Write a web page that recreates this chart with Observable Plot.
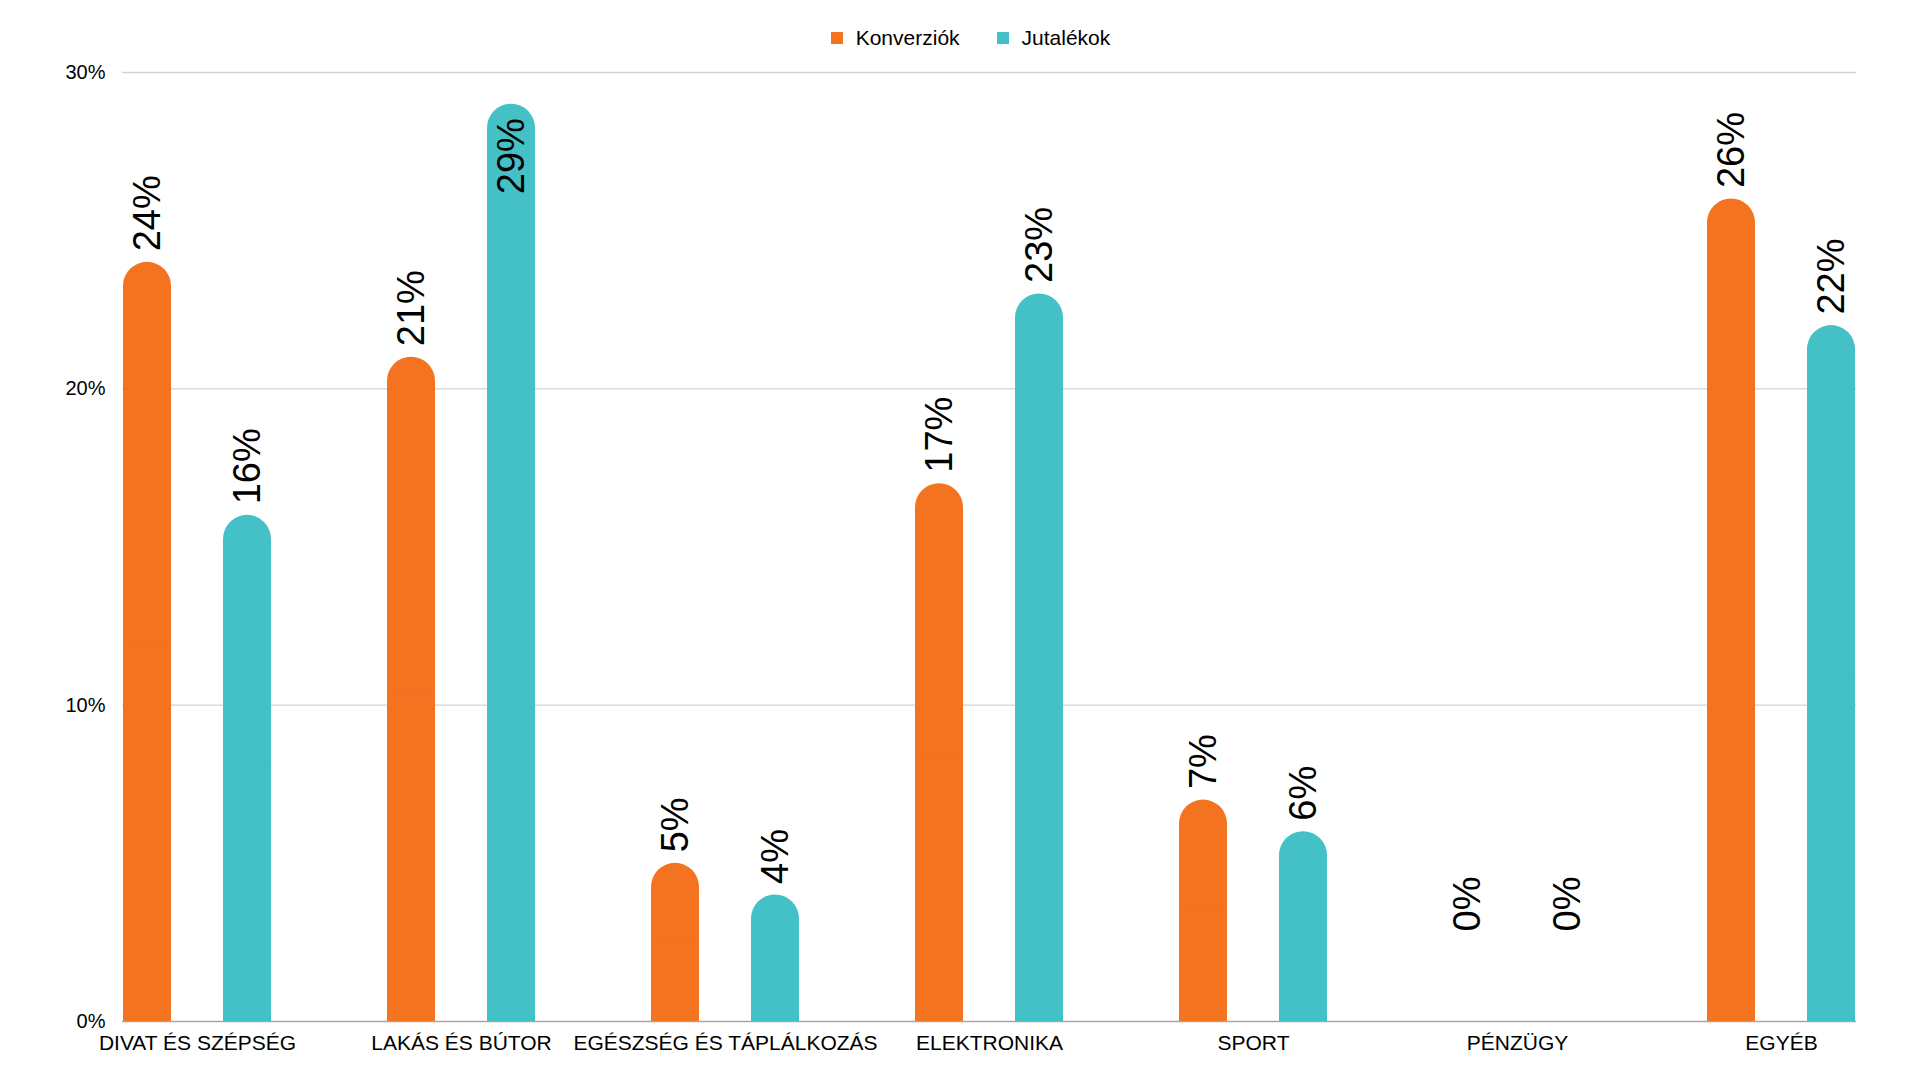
<!DOCTYPE html>
<html>
<head>
<meta charset="utf-8">
<script src="https://cdn.jsdelivr.net/npm/d3@7"></script>
<script src="https://cdn.jsdelivr.net/npm/@observablehq/plot@0.6"></script>
<style>
  html, body { margin: 0; padding: 0; background: #ffffff; }
  #wrap { width: 1920px; height: 1080px; position: relative; overflow: hidden;
          font-family: "Liberation Sans", Arial, sans-serif; color: #000; }
  #legend { height: 56px; box-sizing: border-box; padding-top: 20px; padding-left: 21px;
            display: flex; justify-content: center; gap: 37px;
            font-size: 21px; line-height: 24px; }
  .item { display: flex; align-items: center; gap: 13px; }
  .sw { width: 12px; height: 12px; display: inline-block; }
  #chart svg { display: block; }
</style>
</head>
<body>
<div id="wrap">
  <div id="legend"></div>
  <div id="chart"></div>
</div>
<script>
// ---- data ----
const categories = [
  "DIVAT ÉS SZÉPSÉG",
  "LAKÁS ÉS BÚTOR",
  "EGÉSZSÉG ÉS TÁPLÁLKOZÁS",
  "ELEKTRONIKA",
  "SPORT",
  "PÉNZÜGY",
  "EGYÉB"
];
const series = ["Konverziók", "Jutalékok"];
const konverziok = [24, 21, 5, 17, 7, 0, 26];
const jutalekok  = [16, 29, 4, 23, 6, 0, 22];
const yTicks = [0, 10, 20, 30];
const colors = ["#F37321", "#43C1C6"];

// ---- table ----
const seriesValues = [konverziok, jutalekok];
const rows = categories.flatMap((c, i) =>
  series.map((s, k) => ({category: c, series: s, value: seriesValues[k][i]}))
);

// ---- legend ----
const legend = document.getElementById("legend");
series.forEach((s, k) => {
  const item = document.createElement("div");
  item.className = "item";
  const sw = document.createElement("span");
  sw.className = "sw";
  sw.style.background = colors[k];
  const lab = document.createElement("span");
  lab.textContent = s;
  item.appendChild(sw);
  item.appendChild(lab);
  legend.appendChild(item);
});

// ---- style constants ----
const pairOffset = 50;
const barInset = 42;
const radius = 24;
const labelSize = 38;

const marks = [
  Plot.gridY(yTicks.filter(t => t > 0), {stroke: "#d4d4d4", strokeOpacity: 1, strokeWidth: 1.3}),
  Plot.ruleY([0], {stroke: "#a6a6a6", strokeWidth: 1.5})
];

series.forEach((s, k) => {
  const data = rows.filter(d => d.series === s);
  const dx = k === 0 ? -pairOffset : pairOffset;
  marks.push(
    Plot.barY(data, {x: "category", y1: 0, y2: "value", fill: colors[k], rx: radius, ry: radius,
      insetLeft: barInset, insetRight: barInset, dx}),
    Plot.barY(data, {x: "category", y1: 0, y2: d => d.value / 2, fill: colors[k],
      insetLeft: barInset, insetRight: barInset, dx}),
    // labels above the bar
    Plot.text(data.filter(d => d.value > 0 && d.value < 28), {x: "category", y: "value",
      text: d => d.value + "%", rotate: -90, textAnchor: "start", lineAnchor: "middle",
      dx, dy: -11, fontSize: labelSize, fill: "#000"}),
    // label inside the tallest bar
    Plot.text(data.filter(d => d.value >= 28), {x: "category", y: "value",
      text: d => d.value + "%", rotate: -90, textAnchor: "end", lineAnchor: "middle",
      dx, dy: 14, fontSize: labelSize, fill: "#000"}),
    // zero labels
    Plot.text(data.filter(d => d.value === 0), {x: "category", y: "value",
      text: d => d.value + "%", rotate: -90, textAnchor: "start", lineAnchor: "middle",
      dx, dy: -90, fontSize: labelSize, fill: "#000"})
  );
});

marks.push(
  Plot.axisX({tickSize: 0, tickPadding: 14, fontSize: 21, label: null}),
  Plot.axisY({ticks: yTicks, tickFormat: d => d + "%", tickSize: 0, tickPadding: 17, fontSize: 20, label: null})
);

const chart = Plot.plot({
  width: 1920,
  height: 1024,
  marginTop: 16,
  marginBottom: 59,
  marginLeft: 122,
  marginRight: 64,
  style: {fontFamily: "Liberation Sans, Arial, sans-serif", color: "#000", background: "#fff"},
  x: {type: "band", domain: categories, paddingInner: 0.5, paddingOuter: 0.03, align: 0.5},
  y: {domain: [0, 30], nice: false},
  marks
});
document.getElementById("chart").appendChild(chart);
</script>
</body>
</html>
